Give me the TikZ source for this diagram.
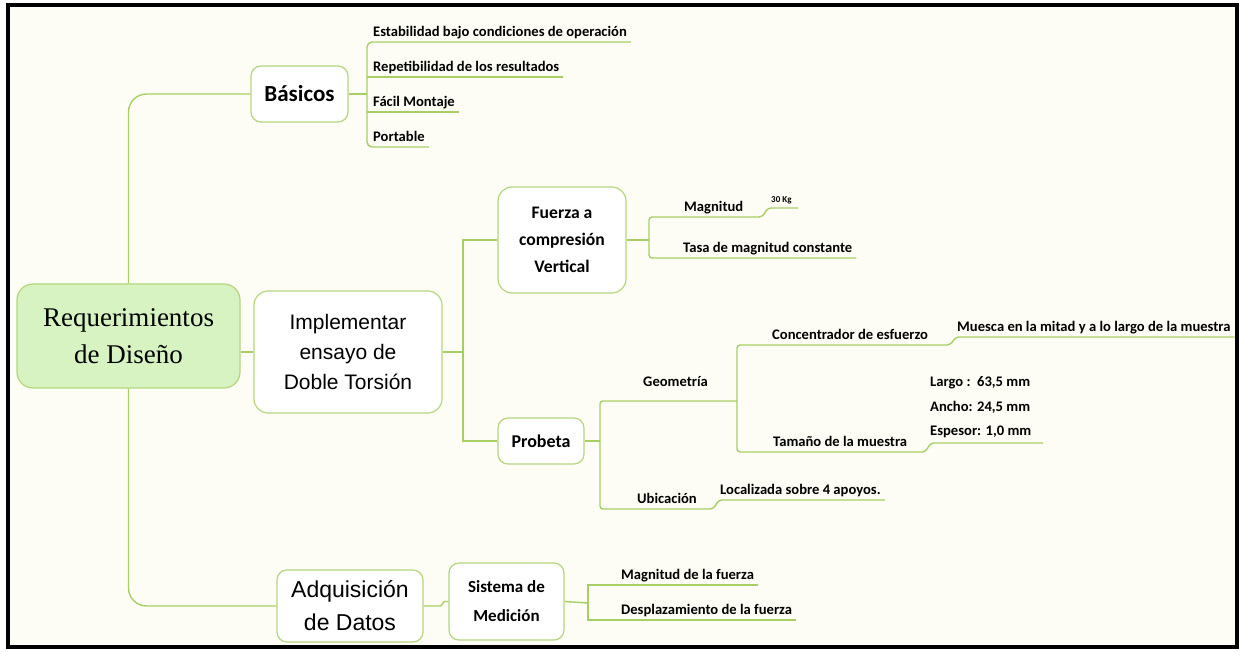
\documentclass[tikz,border=0pt]{standalone}
\usepackage{fontspec}
\setmainfont{Carlito}
\newfontfamily\rootfont{Liberation Serif}
\newfontfamily\arialfont{Liberation Sans}
\usepackage{xcolor}
\usetikzlibrary{positioning}
\definecolor{mapgreen}{HTML}{A8CF66}
\definecolor{rootfill}{HTML}{D7F3C2}
\definecolor{paper}{HTML}{FDFDF5}

\begin{document}
\begin{tikzpicture}[x=1pt,y=-1pt,
  link/.style={draw=mapgreen,line width=1.4pt},
  topic/.style={draw=mapgreen!85,line width=1.2pt,fill=white,rounded corners=10pt,align=center,inner sep=0pt},
  leaf/.style={anchor=south west,inner xsep=0pt,inner ysep=2.5pt,text height=0.72em,text depth=0.25em,font=\fontsize{14.6}{16}\selectfont\bfseries}]
\useasboundingbox (0,0) rectangle (1243,652);
\fill[white] (0,0) rectangle (1243,652);
\fill[paper] (8,5) rectangle (1237,647);
\draw[line width=3.5pt] (8,5) rectangle (1237,647);
% main topics
\node[topic,fill=rootfill,rounded corners=16pt,minimum width=223pt,minimum height=104pt,font=\rootfont\fontsize{27}{37}\selectfont] (root) at (128.5,336) {Requerimientos\\de Diseño};
\node[topic,minimum width=97pt,minimum height=56pt,font=\fontsize{23}{26}\selectfont\bfseries] (bas) at (299.5,94) {Básicos};
\node[topic,minimum width=188pt,minimum height=122pt,rounded corners=14pt,font=\arialfont\fontsize{21}{30}\selectfont] (impl) at (348,352) {Implementar\\ensayo de\\Doble Torsión};
\node[topic,minimum width=146pt,minimum height=72pt,font=\arialfont\fontsize{23}{33}\selectfont] (adq) at (350,606) {Adquisición\\de Datos};
\node[topic,minimum width=115pt,minimum height=77pt,font=\fontsize{17}{29}\selectfont\bfseries] (sis) at (506.5,601.5) {Sistema de\\Medición};
\node[topic,minimum width=128pt,minimum height=106pt,rounded corners=14pt,font=\fontsize{17.6}{27}\selectfont\bfseries] (fue) at (562,240) {Fuerza a\\compresión\\Vertical};
\node[topic,minimum width=86pt,minimum height=46pt,font=\fontsize{18}{20}\selectfont\bfseries] (pro) at (541,441) {Probeta};
\draw[link,rounded corners=18pt] (bas.west) -| (root.north);
\draw[link,rounded corners=18pt] (root.south) |- (adq.west);
\draw[link] (root.east |- impl.west) -- (impl.west);
% basicos
\node[leaf] (est) at (373,42) {Estabilidad bajo condiciones de operación};
\node[leaf] (rep) at (373,77) {Repetibilidad de los resultados};
\node[leaf] (fac) at (373,112) {Fácil Montaje};
\node[leaf] (por) at (373,147) {Portable};
\coordinate (bB) at (367,94);
\draw[link] (bas.east) -- (bB);
\draw[link,rounded corners=5pt] ([xshift=4pt]est.south east) -| (bB) |- ([xshift=4pt]por.south east);
\draw[link] (bB |- rep.south) -- ([xshift=4pt]rep.south east);
\draw[link] (bB |- fac.south) -- ([xshift=4pt]fac.south east);
% ensayo
\coordinate (iB) at (463,352);
\draw[link] (impl.east) -- (iB);
\draw[link] (fue.west) -| (iB) |- (pro.west);
% fuerza
\coordinate (fB) at (649,240);
\draw[link] (fue.east) -- (fB);
\node[leaf] (mag) at (684,217) {Magnitud};
\node[leaf] (tas) at (683,258) {Tasa de magnitud constante};
\node[leaf,font=\fontsize{9}{10}\selectfont\bfseries] (kg) at (771,208) {30 Kg};
\draw[link,rounded corners=3pt] ([xshift=6pt]kg.south east) -- ([xshift=-3pt]kg.south west) -- ([xshift=-9pt]kg.south west |- mag.south) -| (fB) |- ([xshift=4pt]tas.south east);
% probeta
\coordinate (pB) at (600,441);
\coordinate (gB) at (737,401);
\draw[link] (pro.east) -- (pB);
\node[leaf] (geo) at (643,392) {Geometría};
\node[leaf] (ubi) at (637,509) {Ubicación};
\node[leaf] (loc) at (720,500) {Localizada sobre 4 apoyos.};
\draw[link,rounded corners=3pt] ([xshift=4pt]loc.south east) -- ([xshift=-1pt]loc.south west) -- ([xshift=-7pt]loc.south west |- ubi.south) -| (pB) |- (gB);
\node[leaf] (con) at (772,345) {Concentrador de esfuerzo};
\node[leaf] (mue) at (957,337) {Muesca en la mitad y a lo largo de la muestra};
\node[leaf] (tam) at (773,452) {Tamaño de la muestra};
\node[anchor=south west,inner xsep=0pt,inner ysep=5pt,align=left,font=\fontsize{14.6}{24.5}\selectfont\bfseries] (dim) at (930,443) {Largo :\ \ 63,5 mm\\Ancho: 24,5 mm\\Espesor: 1,0 mm};
\draw[link,rounded corners=3pt] ([xshift=4pt]mue.south east) -- ([xshift=-1pt]mue.south west) -- ([xshift=-7pt]mue.south west |- con.south) -| (gB) |- ([xshift=-5pt]dim.south west |- tam.south) -- ([xshift=1pt]dim.south west) -- (1043,443);
% medicion
\coordinate (sB) at (588,603);
\draw[link] (sis.east) -- (sB);
\node[leaf] (mdf) at (621,585) {Magnitud de la fuerza};
\node[leaf] (des) at (621,620) {Desplazamiento de la fuerza};
\draw[link] ([xshift=4pt]mdf.south east) -| (sB) |- ([xshift=4pt]des.south east);
\draw[link] (adq.east) -- ++(17,0) -- ([xshift=-4pt]sis.west) -- (sis.west);
\end{tikzpicture}
\end{document}
